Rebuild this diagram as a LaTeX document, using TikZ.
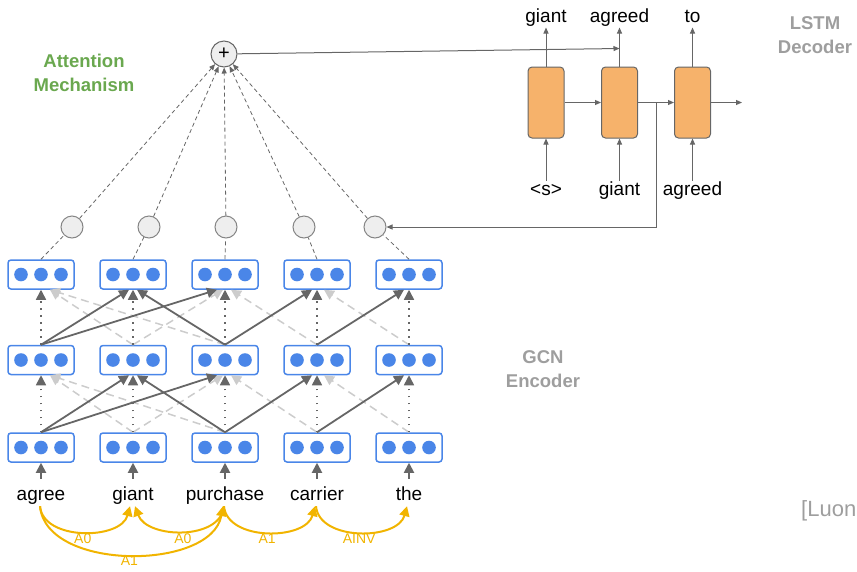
\documentclass[tikz,border=0pt]{standalone}
\usepackage{fontspec}
\setmainfont{Liberation Sans}
\usetikzlibrary{arrows.meta,positioning}

\definecolor{vecblue}{HTML}{4A86E8}
\definecolor{edgegray}{HTML}{666666}
\definecolor{revgray}{HTML}{CCCCCC}
\definecolor{depyellow}{HTML}{F1B400}
\definecolor{cellorange}{HTML}{F6B26B}
\definecolor{attgreen}{HTML}{6AA84F}
\definecolor{titlegray}{HTML}{9E9E9E}
\definecolor{attfill}{HTML}{EEEEEE}

\begin{document}
\begin{tikzpicture}[x=1pt, y=1pt,
  vec/.style={draw=vecblue, line width=1.5pt, rounded corners=3pt, fill=white,
    minimum width=66pt, minimum height=29pt, inner sep=0pt,
    path picture={\foreach \d in {-20,0,20}
      \fill[vecblue] ([xshift=\d pt]path picture bounding box.center) circle (6.8pt);}},
  word/.style={font=\fontsize{19}{23}\selectfont, inner sep=0pt, text height=15pt, text depth=5pt},
  title/.style={font=\fontsize{18.5}{24}\selectfont\bfseries, align=center},
  attn/.style={circle, draw=edgegray!80, fill=attfill, line width=1pt, minimum size=22pt, inner sep=0pt},
  cell/.style={draw=edgegray, fill=cellorange, line width=1pt, rounded corners=4pt,
    minimum width=36pt, minimum height=71pt},
  gcn/.style={edgegray, line width=1.8pt, -{Triangle[length=10pt,width=10pt]}},
  rev/.style={revgray, line width=1.5pt, dash pattern=on 8pt off 5pt, -{Triangle[length=10pt,width=10pt]}},
  self/.style={edgegray, line width=1.5pt, dash pattern=on 1.5pt off 5.5pt, -{Triangle[length=10pt,width=10pt]}},
  att/.style={edgegray, line width=0.8pt, dash pattern=on 4pt off 3pt},
  thin/.style={edgegray, line width=1pt, -{Triangle[length=6pt,width=5pt]}},
  dep/.style={depyellow, line width=2pt, -{Triangle[length=10pt,width=10pt]}},
  deplabel/.style={depyellow, font=\fontsize{14}{16}\selectfont, inner sep=1pt}]
\useasboundingbox (0,0) rectangle (857,-571);

% GCN encoder
\node[vec] (b1) at (41,-447.5) {};
\node[vec] (b2) at (133,-447.5) {};
\node[vec] (b3) at (225,-447.5) {};
\node[vec] (b4) at (317,-447.5) {};
\node[vec] (b5) at (409,-447.5) {};
\node[vec, above=57pt of b1] (m1) {};
\node[vec, above=57pt of b2] (m2) {};
\node[vec, above=57pt of b3] (m3) {};
\node[vec, above=57pt of b4] (m4) {};
\node[vec, above=57pt of b5] (m5) {};
\node[vec, above=55pt of m1] (t1) {};
\node[vec, above=55pt of m2] (t2) {};
\node[vec, above=55pt of m3] (t3) {};
\node[vec, above=55pt of m4] (t4) {};
\node[vec, above=55pt of m5] (t5) {};

\node[word, below=23pt of b1] (w1) {agree};
\node[word, below=23pt of b2] (w2) {giant};
\node[word, below=23pt of b3] (w3) {purchase};
\node[word, below=23pt of b4] (w4) {carrier};
\node[word, below=23pt of b5] (w5) {the};

\draw[gcn, shorten <=7pt] (w1) -- (b1);
\draw[gcn, shorten <=7pt] (w2) -- (b2);
\draw[gcn, shorten <=7pt] (w3) -- (b3);
\draw[gcn, shorten <=7pt] (w4) -- (b4);
\draw[gcn, shorten <=7pt] (w5) -- (b5);

% reverse edges, first layer
\draw[rev] (b2.north) -- ([xshift=9pt]m1.south);
\draw[rev] (b3.north) -- ([xshift=9pt]m1.south);
\draw[rev] (b2.north) -- ([xshift=-2pt]m3.south);
\draw[rev] (b4.north) -- ([xshift=6pt]m3.south);
\draw[rev] (b5.north) -- ([xshift=7pt]m4.south);
% reverse edges, second layer
\draw[rev] (m2.north) -- ([xshift=9pt]t1.south);
\draw[rev] (m3.north) -- ([xshift=9pt]t1.south);
\draw[rev] (m2.north) -- ([xshift=-2pt]t3.south);
\draw[rev] (m4.north) -- ([xshift=6pt]t3.south);
\draw[rev] (m5.north) -- ([xshift=7pt]t4.south);

% self loops
\draw[self] (b1) -- (m1);
\draw[self] (b2) -- (m2);
\draw[self] (b3) -- (m3);
\draw[self] (b4) -- (m4);
\draw[self] (b5) -- (m5);
\draw[self] (m1) -- (t1);
\draw[self] (m2) -- (t2);
\draw[self] (m3) -- (t3);
\draw[self] (m4) -- (t4);
\draw[self] (m5) -- (t5);

% labelled edges, first layer
\draw[gcn] (b1.north) -- ([xshift=-4pt]m2.south);
\draw[gcn] (b1.north) -- ([xshift=-8pt]m3.south);
\draw[gcn] (b3.north) -- ([xshift=4pt]m2.south);
\draw[gcn] (b3.north) -- ([xshift=-5pt]m4.south);
\draw[gcn] (b4.north) -- ([xshift=-5pt]m5.south);
% labelled edges, second layer
\draw[gcn] (m1.north) -- ([xshift=-4pt]t2.south);
\draw[gcn] (m1.north) -- ([xshift=-8pt]t3.south);
\draw[gcn] (m3.north) -- ([xshift=4pt]t2.south);
\draw[gcn] (m3.north) -- ([xshift=-5pt]t4.south);
\draw[gcn] (m4.north) -- ([xshift=-5pt]t5.south);

% dependency arcs
\draw[dep] ([xshift=-1pt]w1.south) to[out=-85, in=-105] node[midway, below, deplabel] {A0} ([xshift=-3pt]w2.south);
\draw[dep] ([xshift=-1pt]w3.south) to[out=-95, in=-70] node[midway, below, deplabel] {A0} ([xshift=2pt]w2.south);
\draw[dep] ([xshift=-1pt]w1.south) to[out=-85, in=-100, looseness=0.92] node[midway, below, deplabel, inner sep=0pt] {A1} ([xshift=-2pt]w3.south);
\draw[dep] ([xshift=-1pt]w3.south) to[out=-85, in=-105] node[midway, below, deplabel] {A1} ([xshift=-2pt]w4.south);
\draw[dep] ([xshift=-1pt]w4.south) to[out=-85, in=-105] node[midway, below, deplabel] {AINV} ([xshift=-2pt]w5.south);

% attention
\node[attn] (a1) at (72,-227) {};
\node[attn] (a2) at (149,-227) {};
\node[attn] (a3) at (226,-227) {};
\node[attn] (a4) at (304,-227) {};
\node[attn] (a5) at (375,-227) {};
\node[attn, minimum size=26pt, draw=edgegray, font=\fontsize{20}{20}\selectfont] (sum) at (224,-54) {+};

\draw[att] (t1.north) -- (a1);
\draw[att] (t2.north) -- (a2);
\draw[att] (t3.north) -- (a3);
\draw[att] (t4.north) -- (a4);
\draw[att] (t5.north) -- (a5);
\draw[att, -{Triangle[length=6pt,width=5pt]}] (a1) -- (sum);
\draw[att, -{Triangle[length=6pt,width=5pt]}] (a2) -- (sum);
\draw[att, -{Triangle[length=6pt,width=5pt]}] (a3) -- (sum);
\draw[att, -{Triangle[length=6pt,width=5pt]}] (a4) -- (sum);
\draw[att, -{Triangle[length=6pt,width=5pt]}] (a5) -- (sum);

% LSTM decoder
\node[cell] (c1) at (546,-102.5) {};
\node[cell, right=36.5pt of c1] (c2) {};
\node[cell, right=36pt of c2] (c3) {};
\node[word, above=39pt of c1] (o1) {giant};
\node[word, above=39pt of c2] (o2) {agreed};
\node[word, above=39pt of c3] (o3) {to};
\node[word, below=42pt of c1] (i1) {<s>};
\node[word, below=42pt of c2] (i2) {giant};
\node[word, below=42pt of c3] (i3) {agreed};
\coordinate (join) at ([yshift=18pt]c2.north);
\coordinate[right=18pt of c2.east] (fb);
\coordinate[right=31pt of c3.east] (dout);

\draw[thin] (c1) -- (o1);
\draw[thin] (c2) -- (o2);
\draw[thin] (c3) -- (o3);
\draw[thin] (i1) -- (c1);
\draw[thin] (i2) -- (c2);
\draw[thin] (i3) -- (c3);
\draw[thin] (c1) -- (c2);
\draw[thin] (c2) -- (c3);
\draw[thin] (c3) -- (dout);
\draw[thin] (sum) -- (join);
\draw[thin] (fb) |- (a5);

% titles
\node[title, attgreen] (atttitle) at (84,-73) {Attention\\Mechanism};
\node[title, titlegray] (dectitle) at (815,-35) {LSTM\\Decoder};
\node[title, titlegray] (enctitle) at (543,-369) {GCN\\Encoder};
\node[anchor=west, titlegray, font=\fontsize{22}{24}\selectfont, inner sep=0pt] (cite) at (801,-511) {[Luon};
\end{tikzpicture}
\end{document}
